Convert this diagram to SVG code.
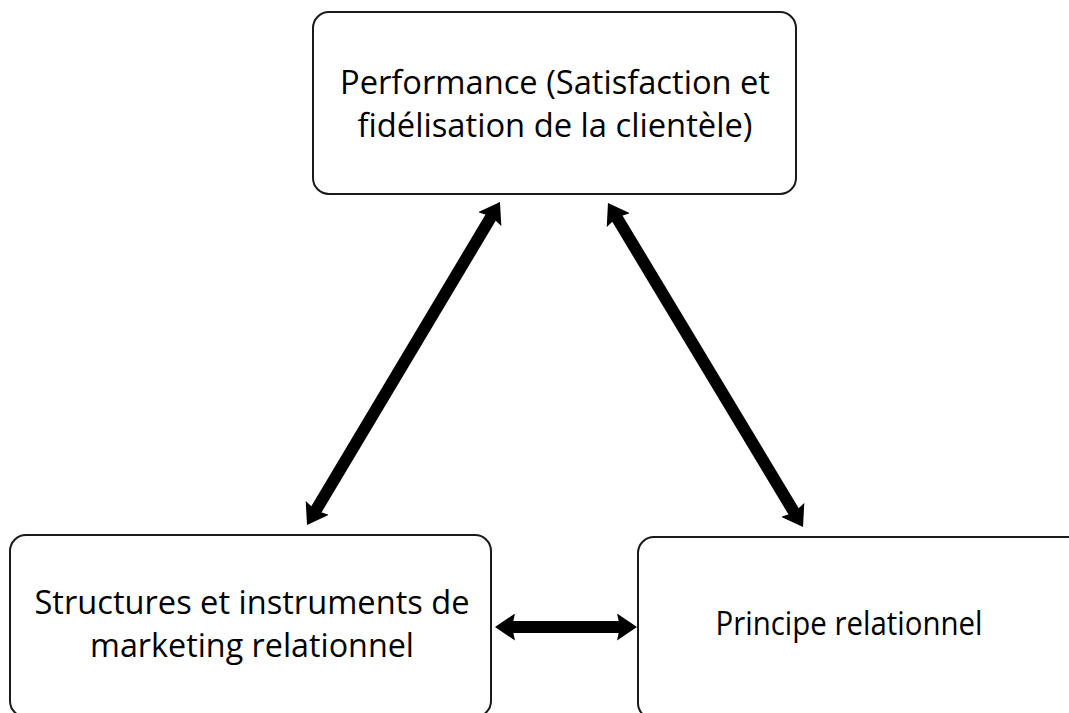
<svg xmlns="http://www.w3.org/2000/svg" width="1069" height="713" viewBox="0 0 1069 713">
<style>
.box{fill:#fff;stroke:#1a1a1a;stroke-width:2}
.lbl{font-family:"Open Sans","Liberation Sans",sans-serif;font-size:33px;fill:#000;text-anchor:middle}
.conn{stroke:#000;stroke-width:12;fill:none}
</style>
<defs>
<marker id="ah" markerUnits="userSpaceOnUse" markerWidth="20" markerHeight="27" refX="6" refY="13.5" orient="auto-start-reverse" viewBox="0 0 20 27">
<path d="M0,0 L20,13.5 L0,27 L3,13.5 Z" fill="#000"/>
</marker>
</defs>
<rect width="1069" height="713" fill="#fff"/>
<g id="node-performance">
<rect class="box" x="313" y="12" width="483" height="182" rx="16"/>
<text class="lbl" x="555" y="94" textLength="430" lengthAdjust="spacingAndGlyphs">Performance (Satisfaction et</text>
<text class="lbl" x="555" y="137" textLength="395" lengthAdjust="spacingAndGlyphs">fidélisation de la clientèle)</text>
</g>
<g id="node-structures">
<rect class="box" x="10" y="535" width="481" height="182" rx="16"/>
<text class="lbl" x="252" y="614" textLength="435" lengthAdjust="spacingAndGlyphs">Structures et instruments de</text>
<text class="lbl" x="252" y="657" textLength="324" lengthAdjust="spacingAndGlyphs">marketing relationnel</text>
</g>
<g id="node-principe">
<rect class="box" x="638" y="537" width="445" height="182" rx="16"/>
<text class="lbl" x="849" y="635" textLength="267" lengthAdjust="spacingAndGlyphs">Principe relationnel</text>
</g>
<g id="connectors">
<line class="conn" x1="314.2" y1="513" x2="492.8" y2="214" marker-start="url(#ah)" marker-end="url(#ah)"/>
<line class="conn" x1="615.2" y1="215" x2="795.8" y2="515" marker-start="url(#ah)" marker-end="url(#ah)"/>
<line class="conn" x1="509" y1="627" x2="623" y2="627" stroke-width="13" marker-start="url(#ah)" marker-end="url(#ah)"/>
</g>
</svg>
